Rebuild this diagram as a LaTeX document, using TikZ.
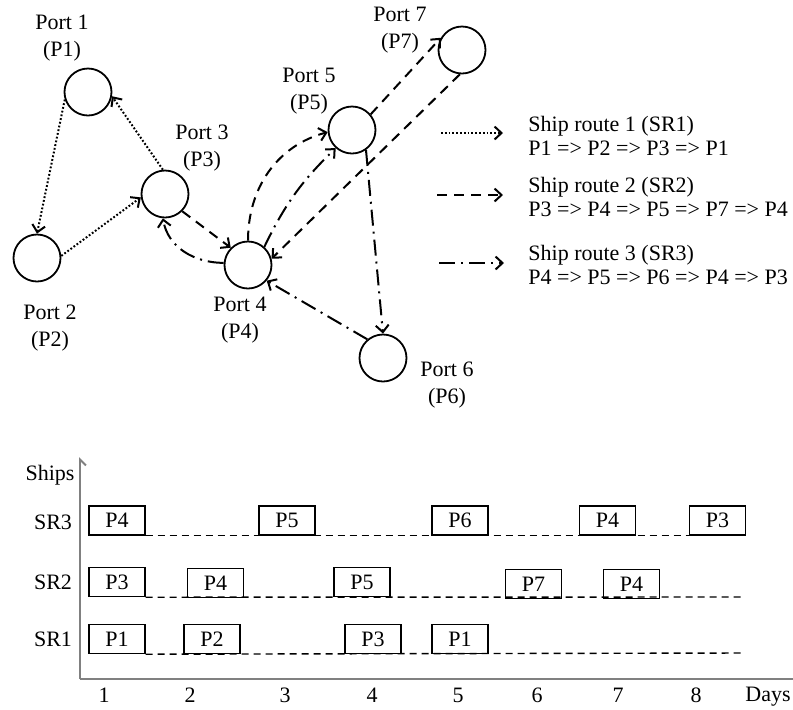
\documentclass[tikz,border=0pt]{standalone}
\usepackage{fontspec}
\setmainfont{Liberation Serif}
\usetikzlibrary{arrows.meta}
\tikzstyle{port}=[circle, draw, minimum size=23.5pt, inner sep=0, line width=0.9pt]
\tikzstyle{portname}=[align=center, inner sep=0, font=\fontsize{11pt}{13.5pt}\selectfont]
\tikzstyle{route}=[line width=1pt, -{Straight Barb[length=3.5pt,width=6.5pt]}]
\tikzstyle{sr one}=[route, dash pattern=on 0.9pt off 1pt]
\tikzstyle{sr two}=[route, dash pattern=on 5pt off 3.5pt]
\tikzstyle{sr three}=[route, dash pattern=on 8pt off 3pt on 1pt off 3pt]
\tikzstyle{legend text}=[align=left, anchor=west, inner sep=0, font=\fontsize{11pt}{11.8pt}\selectfont]
\tikzstyle{visit}=[draw, minimum width=28pt, minimum height=14.5pt, inner sep=0, line width=0.7pt]
\tikzstyle{idle}=[dash pattern=on 3.5pt off 2.5pt, line width=0.7pt]
\tikzstyle{axis}=[gray, line width=1pt]

\begin{document}
\begin{tikzpicture}[x=0.5pt, y=-0.5pt, font=\fontsize{11pt}{13pt}\selectfont]
      \useasboundingbox (0, 0) rectangle (793, 709);

      % ports
      \node[port] (p1) at (88, 92) {};
      \node[port] (p2) at (37, 258) {};
      \node[port] (p3) at (165, 194) {};
      \node[port] (p4) at (248, 265) {};
      \node[port] (p5) at (352, 130) {};
      \node[port] (p6) at (383, 358) {};
      \node[port] (p7) at (462, 50) {};

      \node[portname] (p1_name) at (62, 38) {Port 1\\(P1)};
      \node[portname] (p2_name) at (50, 328) {Port 2\\(P2)};
      \node[portname] (p3_name) at (202, 148) {Port 3\\(P3)};
      \node[portname] (p4_name) at (240, 320) {Port 4\\(P4)};
      \node[portname] (p5_name) at (309, 91) {Port 5\\(P5)};
      \node[portname] (p6_name) at (447, 385) {Port 6\\(P6)};
      \node[portname] (p7_name) at (400, 30) {Port 7\\(P7)};

      % SR1
      \draw[sr one] (p1.198) -- (p2.90);
      \draw[sr one] (p2.5) -- (p3.188);
      \draw[sr one] (p3.95) -- (p1.-10);

      % SR2
      \draw[sr two] (p3.-45) -- (p4.135);
      \draw[sr two] (p4.90) to[out=90, in=195] (p5.185);
      \draw[sr two] (p5.40) -- (p7.150);
      \draw[sr two] (p7.-95) -- (p4.15);

      % SR3
      \draw[sr three] (p4.48) to[bend left=10] (p5.228);
      \draw[sr three] (p5.-55) -- (p6.90);
      \draw[sr three] (p6.130) -- (p4.-40);
      \draw[sr three] (p4.175) to[out=180, in=-80] (p3.-95);

      % legend
      \coordinate (leg1_a) at (441, 133);
      \coordinate (leg1_b) at (503, 133);
      \coordinate (leg2_a) at (437, 195);
      \coordinate (leg2_b) at (503, 195);
      \coordinate (leg3_a) at (439, 263);
      \coordinate (leg3_b) at (504, 263);
      \draw[sr one] (leg1_a) -- (leg1_b);
      \draw[sr two] (leg2_a) -- (leg2_b);
      \draw[sr three] (leg3_a) -- (leg3_b);
      \node[legend text] (leg1) at (528, 136) {Ship route 1 (SR1)\\P1 => P2 => P3 => P1};
      \node[legend text] (leg2) at (528, 197) {Ship route 2 (SR2)\\P3 => P4 => P5 => P7 => P4};
      \node[legend text] (leg3) at (528, 265) {Ship route 3 (SR3)\\P4 => P5 => P6 => P4 => P3};

      % schedule axes
      \coordinate (origin) at (80, 679);
      \coordinate (y_top) at (80, 457);
      \coordinate (x_end) at (793, 679);
      \draw[axis, -{Straight Barb[harpoon, swap, length=3pt, width=6pt]}] (origin) -- (y_top);
      \draw[axis] (origin) -- (x_end);

      \node (ships) at (50, 475) {Ships};
      \node (sr3) at (53, 522) {SR3};
      \node (sr2) at (53, 582) {SR2};
      \node (sr1) at (53, 639) {SR1};

      \node (d1) at (104, 695) {1};
      \node (d2) at (190, 695) {2};
      \node (d3) at (285, 695) {3};
      \node (d4) at (372, 695) {4};
      \node (d5) at (458, 695) {5};
      \node (d6) at (537, 695) {6};
      \node (d7) at (618, 695) {7};
      \node (d8) at (696, 695) {8};
      \node[anchor=east, inner sep=0] (days) at (791, 697) {Days};

      % SR3 row
      \node[visit] (sr3_a) at (117, 520.5) {P4};
      \node[visit] (sr3_b) at (287, 520.5) {P5};
      \node[visit] (sr3_c) at (460, 520.5) {P6};
      \node[visit] (sr3_d) at (607.5, 520.5) {P4};
      \node[visit] (sr3_e) at (717.5, 520.5) {P3};
      \draw[idle] (sr3_a.south east) -- (sr3_e.south west);

      % SR2 row
      \node[visit] (sr2_a) at (117, 582) {P3};
      \node[visit] (sr2_b) at (215.5, 583) {P4};
      \node[visit] (sr2_c) at (362, 582) {P5};
      \node[visit] (sr2_d) at (533.5, 584) {P7};
      \node[visit] (sr2_e) at (631.5, 584) {P4};
      \coordinate (sr2_end) at (743, 597);
      \draw[idle] (sr2_a.south east) -- (sr2_end);

      % SR1 row
      \node[visit] (sr1_a) at (117, 639) {P1};
      \node[visit] (sr1_b) at (212, 639) {P2};
      \node[visit] (sr1_c) at (373, 639) {P3};
      \node[visit] (sr1_d) at (460, 639) {P1};
      \coordinate (sr1_end) at (743, 653);
      \draw[idle] (sr1_a.south east) -- (sr1_end);
    \end{tikzpicture}
\end{document}
